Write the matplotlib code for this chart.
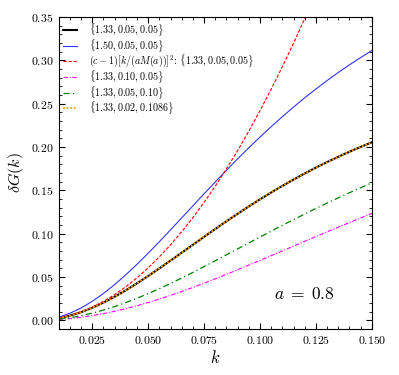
import matplotlib
matplotlib.use("Agg")
import matplotlib.pyplot as plt
from matplotlib.ticker import MultipleLocator

plt.rcParams['font.family'] = 'serif'
plt.rcParams['font.serif'] = ['cmr10']
plt.rcParams['mathtext.fontset'] = 'cm'
plt.rcParams['axes.formatter.use_mathtext'] = True
plt.rcParams['axes.unicode_minus'] = False

k = [0.010, 0.015, 0.020, 0.025, 0.030, 0.035, 0.040, 0.045, 0.050, 0.055,
     0.060, 0.065, 0.070, 0.075, 0.080, 0.085, 0.090, 0.095, 0.100, 0.105,
     0.110, 0.115, 0.120, 0.125, 0.130, 0.135, 0.140, 0.145, 0.150]

# curves labelled by their parameter sets
g_133_005_005 = [0.0024, 0.0054, 0.0094, 0.0145, 0.0204, 0.0272, 0.0346, 0.0427, 0.0511, 0.0599,
                 0.0689, 0.0780, 0.0872, 0.0963, 0.1054, 0.1143, 0.1229, 0.1314, 0.1396, 0.1475,
                 0.1551, 0.1624, 0.1695, 0.1762, 0.1826, 0.1887, 0.1946, 0.2001, 0.2054]
g_150_005_005 = [0.0036, 0.0081, 0.0142, 0.0219, 0.0309, 0.0412, 0.0525, 0.0646, 0.0774, 0.0907,
                 0.1044, 0.1182, 0.1321, 0.1460, 0.1597, 0.1731, 0.1863, 0.1991, 0.2115, 0.2235,
                 0.2350, 0.2461, 0.2568, 0.2669, 0.2767, 0.2860, 0.2948, 0.3032, 0.3113]
g_approx = [0.0024, 0.0054, 0.0097, 0.0151, 0.0218, 0.0296, 0.0387, 0.0490, 0.0605, 0.0732,
            0.0871, 0.1022, 0.1185, 0.1361, 0.1548, 0.1748, 0.1959, 0.2183, 0.2419, 0.2667,
            0.2927, 0.3199, 0.3483, 0.3780]
g_133_010_005 = [0.0009, 0.0020, 0.0035, 0.0054, 0.0077, 0.0104, 0.0134, 0.0168, 0.0205, 0.0245,
                 0.0287, 0.0332, 0.0379, 0.0428, 0.0479, 0.0530, 0.0583, 0.0637, 0.0691, 0.0746,
                 0.0801, 0.0856, 0.0912, 0.0966, 0.1021, 0.1075, 0.1128, 0.1181, 0.1233]
g_133_005_010 = [0.0014, 0.0030, 0.0053, 0.0083, 0.0118, 0.0158, 0.0204, 0.0254, 0.0308, 0.0365,
                 0.0425, 0.0488, 0.0553, 0.0620, 0.0687, 0.0756, 0.0824, 0.0893, 0.0961, 0.1029,
                 0.1096, 0.1162, 0.1227, 0.1291, 0.1353, 0.1413, 0.1472, 0.1530, 0.1586]
g_133_002_01086 = [0.0024, 0.0054, 0.0094, 0.0145, 0.0204, 0.0272, 0.0346, 0.0427, 0.0511, 0.0599,
                   0.0689, 0.0780, 0.0872, 0.0963, 0.1054, 0.1143, 0.1229, 0.1314, 0.1396, 0.1475,
                   0.1551, 0.1624, 0.1695, 0.1762, 0.1826, 0.1887, 0.1946, 0.2001, 0.2054]

fig = plt.figure(figsize=(3.99, 3.75), dpi=100)
ax = fig.add_axes([0.147, 0.1227, 0.785, 0.832])

ax.plot(k, g_133_005_005, color='black', lw=1.5, label=r'$\{1.33, 0.05, 0.05\}$')
ax.plot(k, g_150_005_005, color='#3333ff', lw=0.8, label=r'$\{1.50, 0.05, 0.05\}$')
ax.plot(k[:len(g_approx)], g_approx, color='red', lw=0.8, ls=(0, (3, 1.5)),
        label=r'$(c-1)[k/(aM(a))]^2$: $\{1.33, 0.05, 0.05\}$')
ax.plot(k, g_133_010_005, color='magenta', lw=0.8, ls=(0, (4, 1.5, 1, 1.5)),
        label=r'$\{1.33, 0.10, 0.05\}$')
ax.plot(k, g_133_005_010, color='green', lw=0.9, ls=(0, (5, 2.5, 1, 2.5)),
        label=r'$\{1.33, 0.05, 0.10\}$')
ax.plot(k, g_133_002_01086, color='orange', lw=1.3, ls=(0, (1, 1)),
        label=r'$\{1.33, 0.02, 0.1086\}$')

ax.set_xlim(0.01, 0.15)
ax.set_ylim(-0.01, 0.35)
ax.set_xlabel(r'$k$', fontsize=12, labelpad=2)
ax.set_ylabel(r'$\delta G(k)$', fontsize=11.5, labelpad=4)
ax.xaxis.set_major_locator(MultipleLocator(0.025))
ax.xaxis.set_minor_locator(MultipleLocator(0.005))
ax.yaxis.set_major_locator(MultipleLocator(0.05))
ax.yaxis.set_minor_locator(MultipleLocator(0.01))
ax.tick_params(which='both', direction='in', top=True, right=True, labelsize=8.5)
ax.tick_params(which='major', length=4)
ax.tick_params(which='minor', length=2)

ax.text(0.120, 0.030, r'$a\;=\;0.8$', fontsize=12.5, ha='center', va='center')
ax.legend(loc='upper left', fontsize=7.2, frameon=False, handlelength=1.4,
          handletextpad=1.2, labelspacing=-0.1, borderaxespad=0.05)

fig.savefig('out.png', dpi=100)
